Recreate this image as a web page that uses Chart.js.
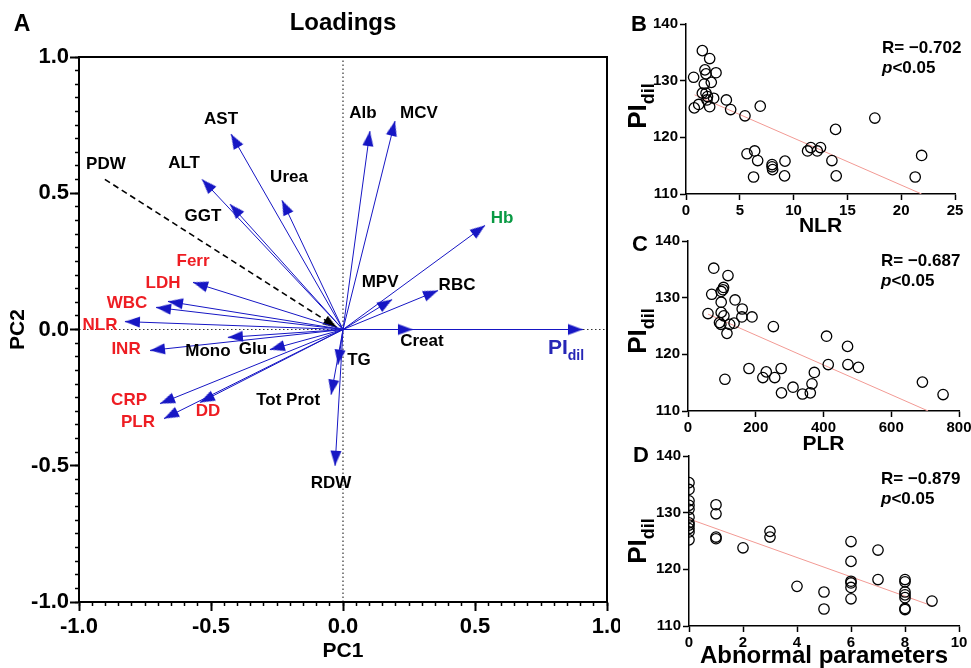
<!DOCTYPE html>
<html><head><meta charset="utf-8">
<script src="https://cdn.jsdelivr.net/npm/chart.js@4.4.1/dist/chart.umd.min.js"></script>
<style>
html,body{margin:0;padding:0;background:#fff;width:971px;height:668px;overflow:hidden;}
.p{position:absolute;}
canvas{display:block;}
</style></head><body>
<div class="p" style="left:0;top:0"><canvas id="cA" width="620" height="668"></canvas></div>
<div class="p" style="left:620px;top:0"><canvas id="cB" width="351" height="236"></canvas></div>
<div class="p" style="left:620px;top:225px"><canvas id="cC" width="351" height="230"></canvas></div>
<div class="p" style="left:620px;top:435px"><canvas id="cD" width="351" height="233"></canvas></div>
<script>
// ---------------- DATA ----------------
// Panel A: PCA loadings (PC1, PC2)
const varNames = ['PIdil','Creat','RBC','MPV','Hb','Alb','MCV','Urea','AST','ALT','GGT','Ferr','LDH','WBC','NLR','Mono','Glu','INR','CRP','PLR','DD','TG','Tot Prot','RDW'];
const pc1 = [0.909, 0.265, 0.360, 0.186, 0.538, 0.102, 0.197, -0.231, -0.424, -0.534, -0.428, -0.568, -0.663, -0.708, -0.826, -0.436, -0.277, -0.731, -0.693, -0.678, -0.542, -0.019, -0.045, -0.030];
const pc2 = [0.000, 0.000, 0.143, 0.110, 0.382, 0.728, 0.765, 0.474, 0.717, 0.551, 0.460, 0.173, 0.103, 0.081, 0.029, -0.029, -0.074, -0.077, -0.272, -0.327, -0.268, -0.129, -0.239, -0.500];
const pdwStart = [-0.902, 0.551];
const pdwEnd = [-0.023, 0.007];
const ticksA = [-1.0, -0.5, 0.0, 0.5, 1.0];

// Panel B: NLR vs PIdil
const nlr = [1.52,2.2,1.76,1.86,2.79,0.71,2.35,1.7,1.52,1.86,2.0,2.57,1.95,1.18,0.77,2.2,3.75,4.15,6.9,5.48,17.55,13.9,5.67,6.38,6.66,6.28,8.0,8.0,8.05,9.2,9.16,11.3,11.6,12.2,12.5,13.56,13.96,21.3,21.9];
const piNlr = [135.3,133.9,131.9,131.2,131.4,130.6,129.7,129.4,127.8,127.8,127.2,126.9,126.6,125.8,125.2,125.4,126.6,124.9,125.5,123.8,123.4,121.4,117.1,117.6,115.9,113.0,115.2,114.8,114.3,115.8,113.2,117.6,118.2,117.6,118.2,115.9,113.2,113.0,116.8];
const nlrFitX = [0.8, 21.9];
const nlrFitY = [127.5, 110.0];
const ticksNLR = [0,5,10,15,20,25];

// Panel C: PLR vs PIdil
const plr = [76,118,105,103,98,70,139,98,59,98,106,160,159,189,93,97,136,123,115,252,409,471,109,180,231,221,256,275,276,310,338,361,366,373,414,472,503,692,753];
const piPlr = [135.2,133.9,131.8,131.4,131.1,130.6,129.6,129.2,127.2,127.4,126.8,128.0,126.6,126.6,125.6,125.3,125.5,125.3,123.7,124.9,123.2,121.4,115.6,117.5,116.9,115.9,115.9,117.5,113.2,114.2,113.0,113.2,114.8,116.8,118.2,118.2,117.7,115.1,112.9];
const plrFitX = [59, 709];
const plrFitY = [127.1, 110.0];
const ticksPLR = [0,200,400,600,800];

// Panel D: number of abnormal parameters vs PIdil
const abn = [0,0,0,0,0,0,0,0,0,0,0, 1,1,1,1, 2, 3,3, 4, 5,5, 6,6,6,6,6,6, 7,7, 8,8,8,8,8,8,8, 9];
const piAbn = [135.3,134.1,132.1,131.3,130.6,129.2,128.2,127.8,127.2,126.6,125.2, 131.4,129.8,125.7,125.4, 123.8, 126.7,125.7, 117.0, 116.0,113.0, 124.9,121.4,117.9,117.6,116.8,114.8, 123.4,118.2, 118.2,117.8,116.0,115.5,115.0,113.1,112.9, 114.4];
const abnFitX = [0, 8.98];
const abnFitY = [128.9, 113.6];
const ticksAbn = [0,2,4,6,8,10];
const ticksPI = [110,120,130,140];

// ---------------- STYLE ----------------
const FONT = "'Liberation Sans', Arial, Helvetica, sans-serif";
Chart.defaults.font.family = FONT;
Chart.defaults.color = '#000';
Chart.defaults.animation = false;
Chart.defaults.events = [];
Chart.defaults.plugins.legend.display = false;
Chart.defaults.plugins.tooltip.enabled = false;

const ARROW = '#1616C4';
const RED = '#EE1D23', GREEN = '#0A9A44', BLUEL = '#2626B6', BLACK = '#000';
const FITC = '#F29A94';

const labelStyle = {
  'PIdil':{dx:-17,dy:17,c:BLUEL}, 'Creat':{dx:9,dy:12,c:BLACK}, 'RBC':{dx:19,dy:-5,c:BLACK},
  'MPV':{dx:-12,dy:-17,c:BLACK}, 'Hb':{dx:17,dy:-7,c:GREEN}, 'Alb':{dx:-7,dy:-18,c:BLACK},
  'MCV':{dx:24,dy:-8,c:BLACK}, 'Urea':{dx:7,dy:-23,c:BLACK}, 'AST':{dx:-10,dy:-15,c:BLACK},
  'ALT':{dx:-18,dy:-16,c:BLACK}, 'GGT':{dx:-27,dy:12,c:BLACK}, 'Ferr':{dx:0,dy:-21,c:RED},
  'LDH':{dx:-5,dy:-18,c:RED}, 'WBC':{dx:-29,dy:-4,c:RED}, 'NLR':{dx:-25,dy:4,c:RED},
  'Mono':{dx:-20,dy:14,c:BLACK}, 'Glu':{dx:-17,dy:0,c:BLACK}, 'INR':{dx:-24,dy:-1,c:RED},
  'CRP':{dx:-31,dy:-3,c:RED}, 'PLR':{dx:-26,dy:4,c:RED}, 'DD':{dx:8,dy:9,c:RED},
  'TG':{dx:21,dy:-4,c:BLACK}, 'Tot Prot':{dx:-43,dy:6,c:BLACK}, 'RDW':{dx:-4,dy:18,c:BLACK}
};
const pdwLabel = {dx:1, dy:-15};

function zeroPad(s){ s.paddingLeft=0; s.paddingRight=0; s.paddingTop=0; s.paddingBottom=0; }
function fmt1(v){ const r = Math.round(v*10)/10; return (r===0?0:r).toFixed(1); }

function arrowHead(color, len, half){
  const s = Math.ceil(len)+2;
  const c = document.createElement('canvas'); c.width = 2*s; c.height = 2*s;
  const g = c.getContext('2d'); g.fillStyle = color;
  g.beginPath(); g.moveTo(s, s); g.lineTo(s+half, s+len); g.lineTo(s-half, s+len); g.closePath(); g.fill();
  return c;
}
const blueHead = arrowHead(ARROW, 15, 5.5);
const blackHead = arrowHead('#000', 14, 5);

function headAngle(ctx){
  const d = ctx.dataset.data, ch = ctx.chart, X = ch.scales.x, Y = ch.scales.y;
  const dx = X.getPixelForValue(d[1].x) - X.getPixelForValue(d[0].x);
  const dy = Y.getPixelForValue(d[1].y) - Y.getPixelForValue(d[0].y);
  return Math.atan2(dx, -dy) * 180 / Math.PI;
}

function drawSub(ctx, main, sub, x, y, size, subSize, color, align){
  ctx.fillStyle = color;
  ctx.font = `bold ${size}px ${FONT}`; const w1 = ctx.measureText(main).width;
  ctx.font = `bold ${subSize}px ${FONT}`; const w2 = ctx.measureText(sub).width;
  const x0 = align === 'center' ? x - (w1+w2)/2 : x;
  ctx.textAlign = 'left'; ctx.textBaseline = 'alphabetic';
  const base = y + size*0.358;
  ctx.font = `bold ${size}px ${FONT}`; ctx.fillText(main, x0, base);
  ctx.font = `bold ${subSize}px ${FONT}`; ctx.fillText(sub, x0+w1, base + size*0.28);
}

// ---------------- PANEL A ----------------
const dsA = [];
varNames.forEach((n,i) => {
  dsA.push({type:'line', label:n, xAxisID:'x', yAxisID:'y',
    data:[{x:0,y:0},{x:pc1[i],y:pc2[i]}],
    borderColor:ARROW, borderWidth:1, fill:false,
    pointRadius:[0,6], pointHoverRadius:[0,6], pointStyle:blueHead, pointRotation:headAngle, order:1});
});
dsA.push({type:'line', label:'PDW', xAxisID:'x', yAxisID:'y',
  data:[{x:pdwStart[0],y:pdwStart[1]},{x:pdwEnd[0],y:pdwEnd[1]}],
  borderColor:'#000', borderWidth:1.6, borderDash:[6,4], fill:false,
  pointRadius:[0,6], pointHoverRadius:[0,6], pointStyle:blackHead, pointRotation:headAngle, order:2});
dsA.push({type:'line', label:'zx', xAxisID:'x', yAxisID:'y', data:[{x:0,y:-1},{x:0,y:1}],
  borderColor:'#333', borderWidth:1.2, borderDash:[1.5,2.5], pointRadius:0, fill:false, order:10});
dsA.push({type:'line', label:'zy', xAxisID:'x', yAxisID:'y', data:[{x:-1,y:0},{x:1,y:0}],
  borderColor:'#333', borderWidth:1.2, borderDash:[1.5,2.5], pointRadius:0, fill:false, order:10});

const textA = {
  id:'textA',
  afterDraw(chart){
    const ctx = chart.ctx, a = chart.chartArea, X = chart.scales.x, Y = chart.scales.y;
    ctx.save();
    ctx.strokeStyle = '#000'; ctx.lineWidth = 2;
    ctx.strokeRect(a.left, a.top, a.right-a.left, a.bottom-a.top);
    ctx.textAlign = 'center'; ctx.textBaseline = 'middle'; ctx.fillStyle = '#000';
    ctx.font = `bold 23px ${FONT}`; ctx.fillText('A', 22, 25);
    ctx.font = `bold 24px ${FONT}`; ctx.fillText('Loadings', (a.left+a.right)/2, 23);
    ctx.font = `bold 21px ${FONT}`; ctx.fillText('PC1', (a.left+a.right)/2, 651);
    ctx.save(); ctx.translate(18, (a.top+a.bottom)/2); ctx.rotate(-Math.PI/2);
    ctx.fillText('PC2', 0, 0); ctx.restore();
    // variable labels
    varNames.forEach((n,i) => {
      const st = labelStyle[n];
      const px = X.getPixelForValue(pc1[i]) + st.dx, py = Y.getPixelForValue(pc2[i]) + st.dy;
      if (n === 'PIdil') { drawSub(ctx, 'PI', 'dil', px, py, 21, 14, st.c, 'center'); return; }
      ctx.fillStyle = st.c; ctx.font = `bold 17px ${FONT}`;
      ctx.textAlign = 'center'; ctx.textBaseline = 'middle';
      ctx.fillText(n, px, py);
    });
    ctx.fillStyle = '#000'; ctx.font = `bold 17px ${FONT}`; ctx.textAlign='center'; ctx.textBaseline='middle';
    ctx.fillText('PDW', X.getPixelForValue(pdwStart[0]) + pdwLabel.dx, Y.getPixelForValue(pdwStart[1]) + pdwLabel.dy);
    ctx.restore();
  }
};

new Chart(document.getElementById('cA'), {
  type:'line',
  data:{datasets:dsA},
  options:{
    responsive:false, devicePixelRatio:1, animation:false,
    layout:{padding:{top:57, right:13, left:0, bottom:0}},
    scales:{
      x:{type:'linear', position:'bottom', min:-1, max:1,
        afterBuildTicks:s=>{ s.ticks = ticksA.map(v=>({value:v})); },
        afterFit:s=>{ s.height = 66; zeroPad(s); },
        ticks:{callback:fmt1, font:{size:22, weight:'bold'}, color:'#000', padding:3, maxRotation:0, autoSkip:false},
        grid:{drawOnChartArea:false, tickLength:9, tickWidth:2, tickColor:'#000'},
        border:{display:true, color:'#000', width:2}},
      y:{type:'linear', position:'left', min:-1, max:1,
        afterBuildTicks:s=>{ s.ticks = ticksA.map(v=>({value:v})); },
        afterFit:s=>{ s.width = 79; zeroPad(s); },
        ticks:{callback:fmt1, font:{size:22, weight:'bold'}, color:'#000', padding:1, autoSkip:false},
        grid:{drawOnChartArea:false, tickLength:9, tickWidth:2, tickColor:'#000'},
        border:{display:true, color:'#000', width:2}},
      xm:{type:'linear', axis:'x', position:{y:-1}, min:-1, max:1,
        ticks:{display:false, stepSize:0.05, autoSkip:false, maxTicksLimit:100},
        grid:{drawOnChartArea:false, tickLength:4, tickWidth:1.5, tickColor:'#000'},
        border:{display:false}},
      ym:{type:'linear', axis:'y', position:{x:-1}, min:-1, max:1,
        ticks:{display:false, stepSize:0.05, autoSkip:false, maxTicksLimit:100},
        grid:{drawOnChartArea:false, tickLength:4, tickWidth:1.5, tickColor:'#000'},
        border:{display:false}}
    },
    plugins:{legend:{display:false}, tooltip:{enabled:false}}
  },
  plugins:[textA]
});

// ---------------- PANELS B, C, D ----------------
function panelText(o){
  return {
    id:'pt'+o.letter,
    afterDraw(chart){
      const ctx = chart.ctx, a = chart.chartArea;
      ctx.save();
      ctx.fillStyle = '#000'; ctx.textAlign = 'center'; ctx.textBaseline = 'middle';
      ctx.font = `bold 22px ${FONT}`; ctx.fillText(o.letter, o.letterX, o.letterY);
      ctx.font = `bold ${o.xTitleSize}px ${FONT}`; ctx.fillText(o.xTitle, (a.left+a.right)/2, o.xTitleY);
      ctx.save(); ctx.translate(17, o.yTitleY); ctx.rotate(-Math.PI/2);
      drawSub(ctx, 'PI', 'dil', 0, 0, 26, 18, '#000', 'center'); ctx.restore();
      ctx.fillStyle = '#000'; ctx.textAlign = 'left'; ctx.textBaseline = 'alphabetic';
      ctx.font = `bold 17px ${FONT}`; ctx.fillText(o.rText, o.rX, o.rY + 6);
      ctx.font = `italic bold 17px ${FONT}`; ctx.fillText('p', o.rX, o.rY + 26);
      const wp = ctx.measureText('p').width;
      ctx.font = `bold 17px ${FONT}`; ctx.fillText('<0.05', o.rX + wp, o.rY + 26);
      ctx.restore();
    }
  };
}

function makePanel(id, o){
  return new Chart(document.getElementById(id), {
    type:'scatter',
    data:{datasets:[
      {type:'scatter', data:o.xs.map((v,i)=>({x:v, y:o.ys[i]})), pointRadius:5.2, pointBorderWidth:1.3,
        pointBorderColor:'#000', pointBackgroundColor:'rgba(255,255,255,0)', pointStyle:'circle', order:1},
      {type:'line', data:o.fitX.map((v,i)=>({x:v, y:o.fitY[i]})), borderColor:FITC, borderWidth:1,
        pointRadius:0, fill:false, order:2}
    ]},
    options:{
      responsive:false, devicePixelRatio:1, animation:false,
      layout:{padding:{top:o.padTop, right:o.padRight, left:0, bottom:0}},
      scales:{
        x:{type:'linear', position:'bottom', min:o.xTicks[0], max:o.xTicks[o.xTicks.length-1],
          afterBuildTicks:s=>{ s.ticks = o.xTicks.map(v=>({value:v})); },
          afterFit:s=>{ s.height = o.xH; zeroPad(s); },
          ticks:{font:{size:15, weight:'bold'}, color:'#000', padding:2, maxRotation:0, autoSkip:false},
          grid:{drawOnChartArea:false, tickLength:6, tickWidth:1.5, tickColor:'#000'},
          border:{color:'#000', width:1.5}},
        y:{type:'linear', position:'left', min:110, max:140,
          afterBuildTicks:s=>{ s.ticks = ticksPI.map(v=>({value:v})); },
          afterFit:s=>{ s.width = o.yW; zeroPad(s); },
          ticks:{font:{size:15, weight:'bold'}, color:'#000', padding:2, autoSkip:false},
          grid:{drawOnChartArea:false, tickLength:6, tickWidth:1.5, tickColor:'#000'},
          border:{color:'#000', width:1.5}}
      },
      plugins:{legend:{display:false}, tooltip:{enabled:false}}
    },
    plugins:[panelText(o)]
  });
}

makePanel('cB', {xs:nlr, ys:piNlr, fitX:nlrFitX, fitY:nlrFitY, xTicks:ticksNLR,
  padTop:24, padRight:16, yW:66, xH:42, letter:'B', letterX:19, letterY:25,
  xTitle:'NLR', xTitleSize:21, xTitleY:226, yTitleY:106, rText:'R= \u22120.702', rX:262, rY:47});
makePanel('cC', {xs:plr, ys:piPlr, fitX:plrFitX, fitY:plrFitY, xTicks:ticksPLR,
  padTop:16, padRight:12, yW:68, xH:44, letter:'C', letterX:20, letterY:20,
  xTitle:'PLR', xTitleSize:21, xTitleY:219, yTitleY:106, rText:'R= \u22120.687', rX:261, rY:35});
makePanel('cD', {xs:abn, ys:piAbn, fitX:abnFitX, fitY:abnFitY, xTicks:ticksAbn,
  padTop:21, padRight:12, yW:69, xH:42, letter:'D', letterX:21, letterY:21,
  xTitle:'Abnormal parameters', xTitleSize:24, xTitleY:221, yTitleY:106, rText:'R= \u22120.879', rX:261, rY:43});
</script>
</body></html>
